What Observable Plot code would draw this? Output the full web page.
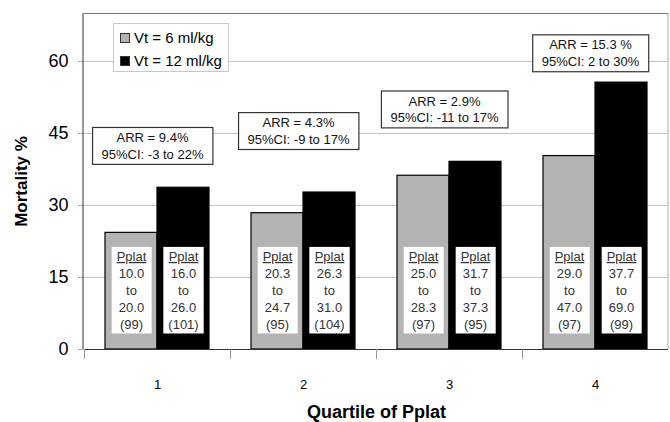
<!DOCTYPE html>
<html>
<head>
<meta charset="utf-8">
<script src="https://cdn.jsdelivr.net/npm/d3@7"></script>
<script src="https://cdn.jsdelivr.net/npm/@observablehq/plot@0.6"></script>
<style>
  html, body { margin: 0; padding: 0; background: #fff; }
  #wrap { position: relative; width: 670px; height: 422px; font-family: "Liberation Sans", Arial, sans-serif; }
  #legend { position: absolute; left: 113px; top: 23px; width: 114px; height: 47px; border: 1px solid #c8c8c8; background: #fff; font-size: 15px; color: #000; }
  #legend .row { position: absolute; left: 6px; display: flex; align-items: center; white-space: nowrap; }
  #legend .sw { width: 8px; height: 8px; border: 1px solid #333; margin-right: 4px; }
</style>
</head>
<body>
<div id="wrap">
  <div id="chart"></div>
  <div id="legend"></div>
</div>
<script>
const quartiles = ["1", "2", "3", "4"];
const series = ["Vt = 6 ml/kg", "Vt = 12 ml/kg"];
const seriesColors = ["#b3b3b3", "#000000"];
const mortality6 = [24.3, 28.4, 36.2, 40.3];
const mortality12 = [33.7, 32.7, 39.1, 55.6];
const pplatLow6 = ["10.0", "20.3", "25.0", "29.0"];
const pplatHigh6 = ["20.0", "24.7", "28.3", "47.0"];
const count6 = [99, 95, 97, 97];
const pplatLow12 = ["16.0", "26.3", "31.7", "37.7"];
const pplatHigh12 = ["26.0", "31.0", "37.3", "69.0"];
const count12 = [101, 104, 95, 99];
const arrLabels = ["ARR = 9.4%", "ARR = 4.3%", "ARR = 2.9%", "ARR = 15.3 %"];
const ciLabels = ["95%CI: -3 to 22%", "95%CI: -9 to 17%", "95%CI: -11 to 17%", "95%CI: 2 to 30%"];
const arrAnchorY = [42.6, 45.7, 50.2, 61.9];
const yTicks = [0, 15, 30, 45, 60];

const bars = [];
quartiles.forEach((q, i) => {
  bars.push({q, s: series[0], v: mortality6[i], lo: pplatLow6[i], hi: pplatHigh6[i], n: count6[i]});
  bars.push({q, s: series[1], v: mortality12[i], lo: pplatLow12[i], hi: pplatHigh12[i], n: count12[i]});
});
const arr = quartiles.map((q, i) => ({q, t: arrLabels[i] + "\n" + ciLabels[i], y: arrAnchorY[i]}));

const W = 670, H = 422, mL = 83, mR = 2, mT = 13, mB = 73;
const font = '"Liberation Sans", Arial, sans-serif';

const plot = Plot.plot({
  width: W, height: H,
  marginLeft: mL, marginRight: mR, marginTop: mT, marginBottom: mB,
  style: {fontFamily: font, color: "#000", background: "transparent"},
  fx: {domain: quartiles, padding: 0, axis: null},
  x: {domain: series, paddingInner: 0, paddingOuter: 0.38, axis: null},
  y: {domain: [0, 70], axis: null},
  color: {domain: series, range: seriesColors},
  marks: [
    Plot.gridY(yTicks.filter(d => d > 0), {stroke: "#c4c4c4", strokeOpacity: 1}),
    Plot.axisY({ticks: yTicks, tickSize: 6, tickPadding: 10, fontSize: 18, label: null, stroke: "#aaa"}),
    Plot.axisY({ticks: [], label: "Mortality %", labelArrow: "none", labelAnchor: "center", labelOffset: 70, fontSize: 17, fontWeight: "bold"}),
    Plot.axisFx({anchor: "bottom", tickSize: 0, tickPadding: 30, fontSize: 13, label: null}),
    Plot.axisFx({anchor: "bottom", ticks: [], label: "Quartile of Pplat", labelArrow: "none", labelAnchor: "center", labelOffset: 68, fontSize: 18, fontWeight: "bold"}),
    Plot.barY(bars, {fx: "q", x: "s", y: "v", fill: "s", stroke: "#000", strokeWidth: 1.2}),
    Plot.ruleY([0], {stroke: "#333", strokeWidth: 1.2}),
    Plot.frame({anchor: "top", stroke: "#777"}),
    Plot.frame({anchor: "left", stroke: "#999", insetTop: 336, insetBottom: -9}),
    Plot.text(bars, {fx: "q", x: "s", frameAnchor: "bottom", lineAnchor: "bottom", dy: -21,
      text: d => `Pplat\n${d.lo}\nto\n${d.hi}\n(${d.n})`, fontSize: 13, lineHeight: 1.3, fill: "#333", ariaDescription: "pplat"}),
    Plot.text(arr, {fx: "q", y: "y", text: "t", dx: -5, lineAnchor: "middle", fontSize: 13, lineHeight: 1.3, fill: "#111", ariaDescription: "arr"})
  ]
});
document.getElementById("chart").append(plot);

function boxText(sel, padX, padY, stroke) {
  d3.select(plot).selectAll(sel).each(function() {
    const bb = this.getBBox();
    const r = document.createElementNS("http://www.w3.org/2000/svg", "rect");
    r.setAttribute("x", bb.x - padX);
    r.setAttribute("y", bb.y - padY);
    r.setAttribute("width", bb.width + 2 * padX);
    r.setAttribute("height", bb.height + 2 * padY);
    r.setAttribute("fill", "#fff");
    r.setAttribute("stroke", stroke);
    r.setAttribute("stroke-width", 1.2);
    const tr = this.getAttribute("transform");
    if (tr) r.setAttribute("transform", tr);
    this.parentNode.insertBefore(r, this);
  });
}
d3.select(plot).selectAll('g[aria-description="pplat"] text').each(function() {
  const first = this.querySelector("tspan");
  if (first) first.style.textDecoration = "underline";
});
boxText('g[aria-description="pplat"] text', 5, 2, "none");
boxText('g[aria-description="arr"] text', 9, 2.5, "#333");

// outer left/right borders of the plotting area
const yr = plot.scale("y").range;
const svg = d3.select(plot);
[mL, W - mR].forEach((x, i) => {
  svg.append("line").attr("x1", x).attr("x2", x).attr("y1", yr[1]).attr("y2", yr[0])
    .attr("stroke", i === 0 ? "#555" : "#bbb").attr("stroke-width", 1.2);
});

// legend built from the color scale
const leg = document.getElementById("legend");
series.forEach((s, i) => {
  const row = document.createElement("div");
  row.className = "row";
  row.style.top = (i === 0 ? 5 : 28) + "px";
  const sw = document.createElement("div");
  sw.className = "sw";
  sw.style.background = plot.scale("color").apply(s);
  const t = document.createElement("span");
  t.textContent = s;
  row.append(sw, t);
  leg.append(row);
});
</script>
</body>
</html>
